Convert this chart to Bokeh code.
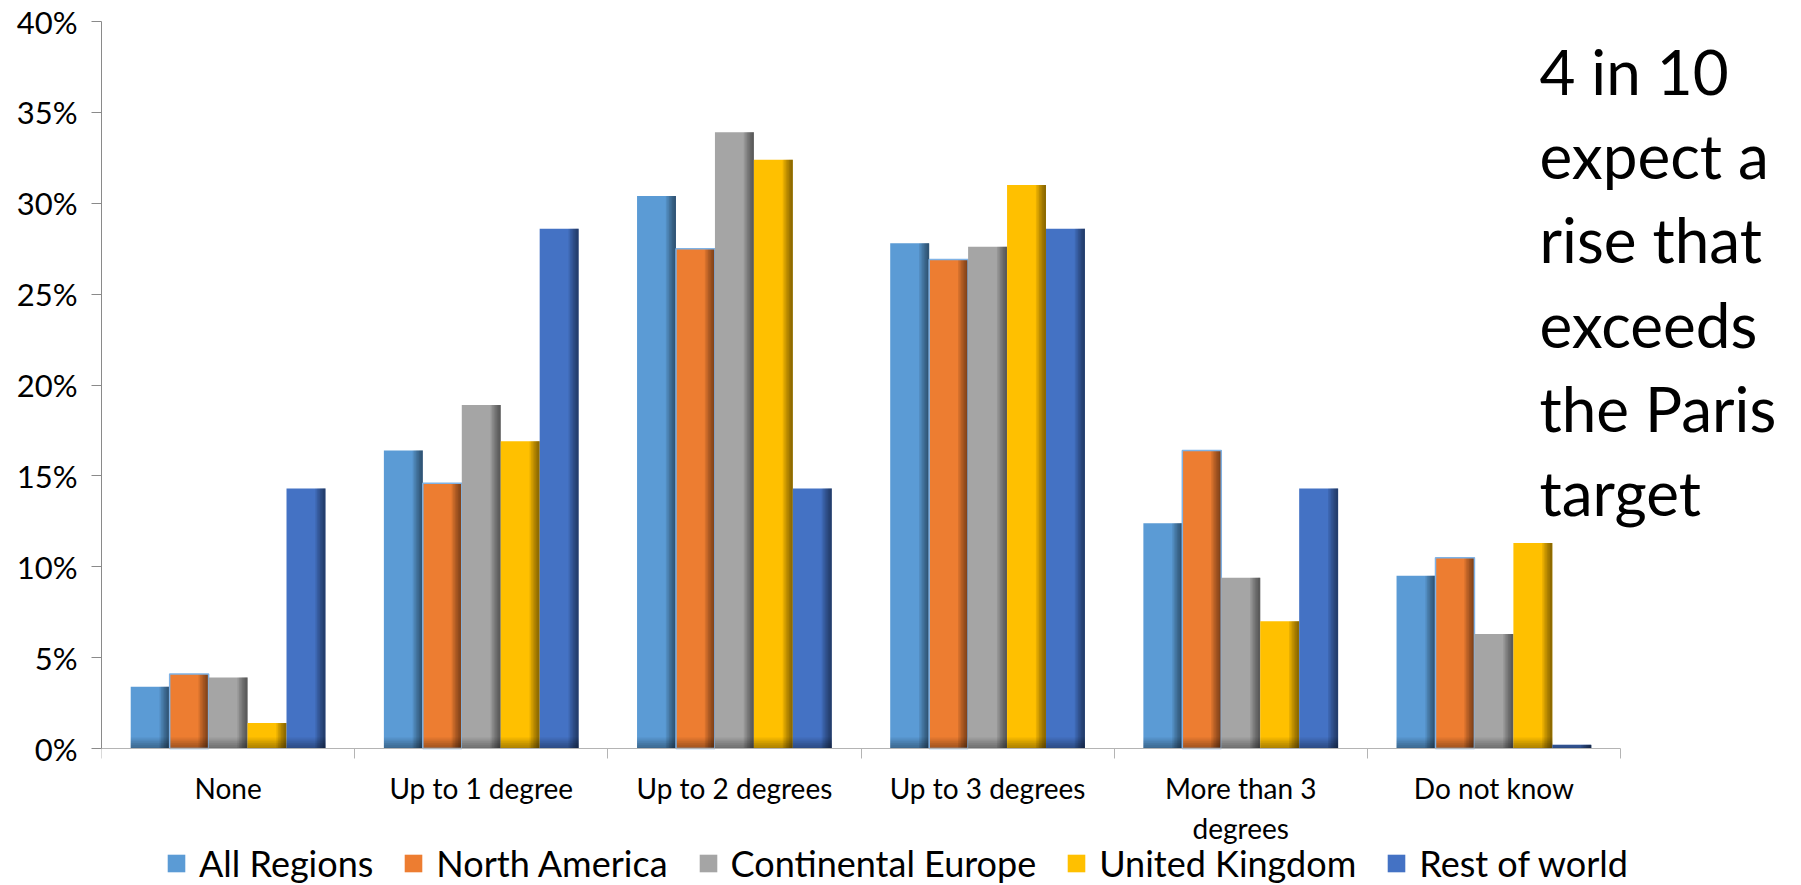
from bokeh.plotting import figure
from bokeh.models import (Range1d, FixedTicker, PrintfTickFormatter, Legend,
                          LegendItem, Label, ColumnDataSource)
from bokeh.embed import file_html
from bokeh.resources import INLINE

# Expected global temperature rise, share of respondents by region (%)
categories = ["None", "Up to 1 degree", "Up to 2 degrees", "Up to 3 degrees",
              "More than 3\ndegrees", "Do not know"]
series_names = ["All Regions", "North America", "Continental Europe",
                "United Kingdom", "Rest of world"]
all_regions = [3.4, 16.4, 30.4, 27.8, 12.4, 9.5]
north_america = [4.1, 14.6, 27.5, 26.9, 16.4, 10.5]
continental_europe = [3.9, 18.9, 33.9, 27.6, 9.4, 6.3]
united_kingdom = [1.4, 16.9, 32.4, 31.0, 7.0, 11.3]
rest_of_world = [14.3, 28.6, 14.3, 28.6, 14.3, 0.2]
y_ticks = [0, 5, 10, 15, 20, 25, 30, 35, 40]
callout_lines = ["4 in 10", "expect a", "rise that", "exceeds", "the Paris", "target"]

series_values = [all_regions, north_america, continental_europe,
                 united_kingdom, rest_of_world]
colors = ["#5B9BD5", "#ED7D31", "#A5A5A5", "#FFC000", "#4472C4"]
outlines = [None, "#7FB2E5", None, None, None]
FONT = "Lato"

n_cat = len(categories)
n_ser = len(series_values)
bar_w = 1.0 / (n_ser + 1.5)   # 30% gap between groups
y_max = y_ticks[-1]

# canvas / axis geometry in pixels
W, H = 1801, 885
LEFT, TOP = 101, 21
AXIS_RIGHT = 1620             # where the category axis ends
AXIS_BOTTOM = 748             # pixel row of the 0% line
# The frame fills the canvas to the right and bottom edges so that the
# callout and legend are not clipped; the axes are bounded to the data area.
x_end = n_cat * (W - LEFT) / (AXIS_RIGHT - LEFT)
y_start = -y_max * (H - AXIS_BOTTOM) / (AXIS_BOTTOM - TOP)

p = figure(width=W, height=H,
           x_range=Range1d(0, x_end), y_range=Range1d(y_start, y_max),
           output_backend="svg", toolbar_location=None,
           min_border_left=LEFT, min_border_right=0,
           min_border_top=TOP, min_border_bottom=0)
p.outline_line_color = None
p.background_fill_color = "white"
p.border_fill_color = "white"
p.xgrid.visible = False
p.ygrid.visible = False

legend_items = []
for i, (name, vals, col, edge) in enumerate(zip(series_names, series_values,
                                                 colors, outlines)):
    offset = (i - (n_ser - 1) / 2) * bar_w
    xs = [j + 0.5 + offset for j in range(n_cat)]
    src = ColumnDataSource(dict(x=xs, top=vals))
    r = p.vbar(x="x", top="top", width=bar_w, source=src,
               fill_color=col, line_color=None)
    legend_items.append(LegendItem(label=name, renderers=[r]))

    # soft darkening toward the right edge of each bar
    for k in range(6):
        frac = 0.26 - k * 0.04
        sx = [x + bar_w / 2 - bar_w * frac / 2 for x in xs]
        p.vbar(x=sx, top=vals, width=bar_w * frac,
               fill_color="black", fill_alpha=0.09, line_color=None)
    # gradual shading at the base
    for t in (0.1, 0.2, 0.3, 0.4, 0.5, 0.6):
        p.vbar(x=xs, top=[min(v, t) for v in vals], width=bar_w,
               fill_color="black", fill_alpha=0.06, line_color=None)
    if edge:
        p.vbar(x="x", top="top", width=bar_w, source=src,
               fill_color=None, line_color=edge, line_width=1.5)

# y axis
p.yaxis.bounds = (0, y_max)
p.yaxis.ticker = FixedTicker(ticks=y_ticks)
p.yaxis.formatter = PrintfTickFormatter(format="%d%%")
p.yaxis.major_tick_out = 10
p.yaxis.major_tick_in = 0
p.yaxis.minor_tick_line_color = None
p.yaxis.axis_line_color = "#8a8a8a"
p.yaxis.major_tick_line_color = "#8a8a8a"
p.yaxis.major_label_text_font = FONT
p.yaxis.major_label_text_font_size = "31px"
p.yaxis.major_label_text_color = "black"
p.yaxis.major_label_standoff = 14

# x axis at the 0% line: labels at category centres, ticks at boundaries
centres = [j + 0.5 for j in range(n_cat)]
p.xaxis.fixed_location = 0
p.xaxis.bounds = (0, n_cat)
p.xaxis.ticker = FixedTicker(ticks=centres, minor_ticks=list(range(n_cat + 1)))
p.xaxis.major_label_overrides = {c: lab for c, lab in zip(centres, categories)}
p.xaxis.major_tick_line_color = None
p.xaxis.major_tick_out = 10
p.xaxis.major_tick_in = 0
p.xaxis.minor_tick_out = 10
p.xaxis.minor_tick_in = 0
p.xaxis.minor_tick_line_color = "#b4b4b4"
p.xaxis.axis_line_color = "#b4b4b4"
p.xaxis.major_label_text_font = FONT
p.xaxis.major_label_text_font_size = "28px"
p.xaxis.major_label_text_color = "black"
p.xaxis.major_label_standoff = 12

legend = Legend(items=legend_items, orientation="horizontal",
                location=(64, 0), glyph_width=22, glyph_height=22,
                label_standoff=12, spacing=29, padding=0, margin=0,
                border_line_color=None, background_fill_alpha=0,
                label_text_font=FONT, label_text_font_size="36px",
                label_text_color="black")
p.add_layout(legend, "center")

callout = Label(x=1438, y=H - 33, x_units="screen", y_units="screen",
                text="\n".join(callout_lines), text_font=FONT,
                text_font_size="62px", text_color="black",
                text_baseline="top", text_align="left",
                text_line_height=1.14)
p.add_layout(callout)

open("out.html", "w").write(file_html(p, INLINE))
